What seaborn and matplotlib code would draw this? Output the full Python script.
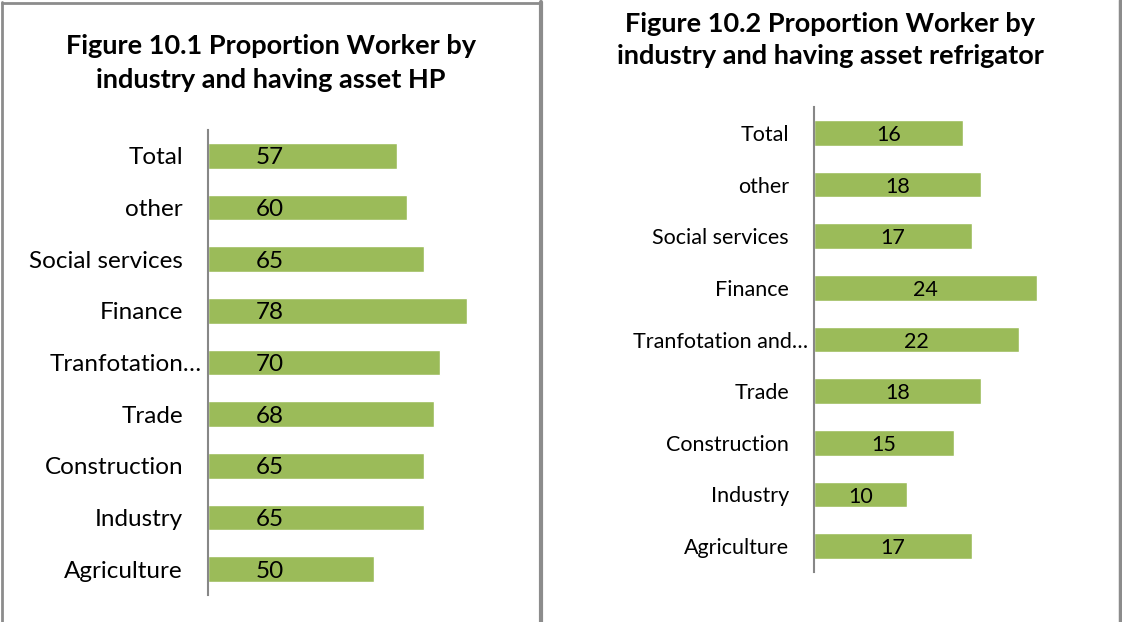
import matplotlib
matplotlib.use("Agg")
import matplotlib.pyplot as plt
from matplotlib.lines import Line2D
from matplotlib.transforms import ScaledTranslation
import seaborn as sns
import pandas as pd

sns.set_theme(style="white")
plt.rcParams["font.family"] = ["Lato", "DejaVu Sans"]

# Industry categories, top to bottom
categories = ["Total", "other", "Social services", "Finance", "Tranfotation and\u2026",
              "Trade", "Construction", "Industry", "Agriculture"]
hp_labels = ["Total", "other", "Social services", "Finance", "Tranfotation\u2026",
             "Trade", "Construction", "Industry", "Agriculture"]
hp_values = [57, 60, 65, 78, 70, 68, 65, 65, 50]
fridge_values = [16, 18, 17, 24, 22, 18, 15, 10, 17]

BAR = "#9BBB59"
GREY = "#878787"
W, H = 1122, 622

fig = plt.figure(figsize=(W / 100, H / 100), dpi=100)


def px_axes(x0, y_top, x1, y_bot):
    return fig.add_axes([x0 / W, 1 - y_bot / H, (x1 - x0) / W, (y_bot - y_top) / H])


def draw_panel(ax, labels, values, xmax, fontsize, label_x=None):
    df = pd.DataFrame({"industry": labels, "pct": values})
    sns.barplot(data=df, y="industry", x="pct", order=labels, color=BAR,
                width=0.5, saturation=1, ax=ax, orient="h")
    ax.set_xlim(0, xmax)
    ax.set_ylim(8.5, -0.5)
    ax.set_xlabel("")
    ax.set_ylabel("")
    ax.set_xticks([])
    ax.tick_params(axis="y", length=0, pad=18, labelsize=fontsize, labelcolor="#000000")
    for side in ["top", "right", "bottom"]:
        ax.spines[side].set_visible(False)
    ax.spines["left"].set_color(GREY)
    ax.spines["left"].set_linewidth(1.5)
    # truncated category names sit closer to the axis
    for lab in ax.get_yticklabels():
        if lab.get_text().endswith("\u2026"):
            lab.set_transform(lab.get_transform() + ScaledTranslation(0.19, 0, fig.dpi_scale_trans))
    for i, v in enumerate(values):
        x = label_x if label_x is not None else v / 2
        ax.text(x, i + 0.04, f"{v}", ha="center", va="center",
                fontsize=fontsize, color="#000000")


ax1 = px_axes(208, 130, 508, 595)
draw_panel(ax1, hp_labels, hp_values, 300 / 3.32, 17.5, label_x=18.7)

ax2 = px_axes(814, 107, 1100, 572)
draw_panel(ax2, categories, fridge_values, 286 / 9.3, 15.5)

# Titles
fig.text(271 / W, 1 - 63 / H, "Figure 10.1 Proportion Worker by\nindustry and having asset HP",
         ha="center", va="center", fontsize=19.5, fontweight="bold",
         linespacing=1.45, color="#000000")
fig.text(830 / W, 1 - 40 / H, "Figure 10.2 Proportion Worker by\nindustry and having asset refrigator",
         ha="center", va="center", fontsize=19.5, fontweight="bold",
         linespacing=1.45, color="#000000")

# Panel frames
frame = dict(color="#8c8c8c", transform=fig.transFigure, clip_on=False)
fig.add_artist(Line2D([1.5 / W, 1.5 / W], [0, 1 - 2 / H], lw=2, **frame))
fig.add_artist(Line2D([1.5 / W, 541 / W], [1 - 2.5 / H, 1 - 2.5 / H], lw=2, **frame))
fig.add_artist(Line2D([541 / W, 541 / W], [0, 1 - 2 / H], lw=3, **frame))
fig.add_artist(Line2D([1119.5 / W, 1119.5 / W], [0, 1], lw=2.5, **frame))

fig.savefig("out.png", dpi=100, facecolor="white")
